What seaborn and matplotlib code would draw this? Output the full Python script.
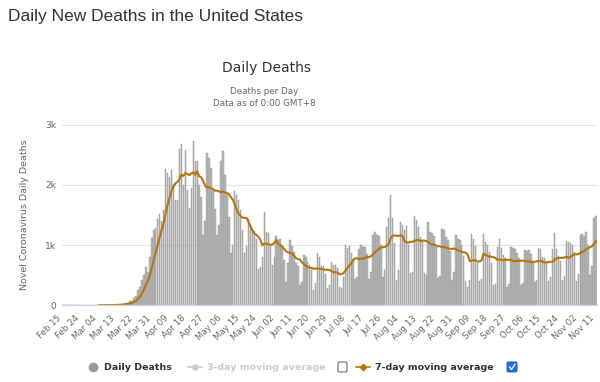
import numpy as np
import pandas as pd
import matplotlib
matplotlib.use("Agg")
import matplotlib.pyplot as plt
import matplotlib.transforms as mtransforms
from matplotlib.lines import Line2D
from matplotlib.patches import FancyBboxPatch
import seaborn as sns

# ---- data: daily deaths, Feb 15 .. Nov 11 (2020), one row per week starting Saturday
daily_deaths = [
    0, 0, 0, 0, 0, 0, 0,
    0, 0, 0, 0, 0, 0, 0,
    1, 0, 5, 1, 4, 1, 2,
    3, 4, 4, 5, 8, 7, 10,
    10, 11, 22, 25, 37, 46, 68,
    75, 118, 150, 250, 310, 420, 500,
    640, 560, 800, 1110, 1250, 1280, 1440,
    1510, 1400, 1580, 2260, 2190, 2130, 2240,
    2020, 1750, 1750, 2600, 2670, 2000, 2580,
    1910, 1610, 1950, 2720, 2400, 2400, 2000,
    1800, 1170, 1400, 2520, 2440, 2270, 1910,
    1600, 1170, 1330, 2390, 2560, 2160, 1830,
    1470, 860, 1000, 1890, 1830, 1750, 1580,
    1250, 860, 980, 1430, 1330, 1250, 1230,
    1100, 610, 640, 800, 1540, 1220, 1200,
    1000, 670, 800, 1150, 1080, 1100, 1000,
    750, 380, 700, 1080, 980, 890, 700,
    650, 330, 380, 840, 800, 720, 670,
    590, 260, 370, 860, 800, 650, 650,
    520, 280, 340, 720, 670, 670, 620,
    300, 280, 470, 1000, 950, 980, 870,
    750, 430, 470, 930, 1000, 960, 960,
    850, 430, 560, 1170, 1220, 1170, 1150,
    1000, 470, 590, 1300, 1450, 1830, 1450,
    1030, 420, 580, 1390, 1330, 1250, 1310,
    1000, 530, 560, 1490, 1420, 1300, 1140,
    1080, 530, 500, 1380, 1220, 1200, 1150,
    960, 450, 490, 1270, 1250, 1130, 1080,
    900, 420, 560, 1170, 1100, 1080, 1000,
    820, 400, 300, 420, 1190, 1100, 980,
    700, 400, 430, 1190, 1050, 1000, 880,
    700, 330, 360, 960, 1100, 950, 830,
    780, 300, 360, 960, 950, 930, 870,
    780, 330, 370, 920, 900, 920, 850,
    720, 380, 420, 950, 940, 800, 780,
    720, 400, 470, 940, 1200, 940, 820,
    740, 420, 480, 1060, 1050, 1040, 1000,
    880, 400, 520, 1170, 1180, 1150, 1220,
    1000, 500, 650, 1450, 1480,
]
start_date = "2020-02-15"
ma_start = "2020-03-04"   # the moving-average series begins here
tick_labels = ["Feb 15", "Feb 24", "Mar 04", "Mar 13", "Mar 22", "Mar 31", "Apr 09",
               "Apr 18", "Apr 27", "May 06", "May 15", "May 24", "Jun 02", "Jun 11",
               "Jun 20", "Jun 29", "Jul 08", "Jul 17", "Jul 26", "Aug 04", "Aug 13",
               "Aug 22", "Aug 31", "Sep 09", "Sep 18", "Sep 27", "Oct 06", "Oct 15",
               "Oct 24", "Nov 02", "Nov 11"]
y_ticks = [0, 1000, 2000, 3000]
y_tick_labels = ["0", "1k", "2k", "3k"]

n = len(daily_deaths)
dates = pd.date_range(start_date, periods=n)
df = pd.DataFrame({"idx": np.arange(n), "date": dates, "deaths": daily_deaths})
ma7 = df["deaths"].rolling(7).mean()
ma7[df["date"] < pd.Timestamp(ma_start)] = np.nan
df["ma7"] = ma7

sns.set_theme(style="white")
plt.rcParams["font.family"] = ["DejaVu Sans"]

fig = plt.figure(figsize=(6.0, 3.82), dpi=100)
ax = fig.add_axes([62 / 600, 1 - 305.3 / 382, 535 / 600, (305.3 - 124.5) / 382])

sns.barplot(data=df, x="idx", y="deaths", ax=ax, color="#bababa", width=0.72,
            edgecolor="#8e8e8e", linewidth=0.3, saturation=1)
sns.lineplot(data=df, x="idx", y="ma7", ax=ax, color="#b8740e", linewidth=1.5)

ax.set_xlim(-0.5, n - 0.5)
ax.set_ylim(0, 3000)
ax.set_yticks(y_ticks)
ax.set_yticklabels(y_tick_labels, fontsize=6.5, color="#666666")
ax.yaxis.grid(True, color="#e6e6e6", linewidth=0.8)
ax.set_axisbelow(True)
ax.set_xticks(np.arange(0, n, 9)[:len(tick_labels)])
ax.set_xticklabels(tick_labels, rotation=45, ha="right", rotation_mode="anchor",
                   fontsize=6.2, color="#666666")
ax.tick_params(axis="both", length=0, pad=4)
ax.tick_params(axis="x", pad=6)
for s in ["top", "right", "left"]:
    ax.spines[s].set_visible(False)
ax.spines["bottom"].set_color("#ccd6eb")
ax.spines["bottom"].set_linewidth(1)
ax.set_xlabel("")
ax.set_ylabel("Novel Coronavirus Daily Deaths", fontsize=6.8, color="#666666", labelpad=12)

# titles
fig.text(8 / 600, 1 - 16 / 382, "Daily New Deaths in the United States",
         fontsize=12.5, color="#333333", family="Liberation Sans", va="center", ha="left")
fig.text(266 / 600, 1 - 68 / 382, "Daily Deaths", fontsize=10, color="#333333",
         ha="center", va="center")
fig.text(264 / 600, 1 - 91 / 382, "Deaths per Day", fontsize=6.3, color="#666666",
         ha="center", va="center")
fig.text(264 / 600, 1 - 104 / 382, "Data as of 0:00 GMT+8", fontsize=6.3, color="#666666",
         ha="center", va="center")

# legend
ly = 1 - 367 / 382
fig.add_artist(Line2D([93 / 600], [ly], marker="o", markersize=6, color="#999999",
                      transform=fig.transFigure, linestyle="none"))
fig.text(104 / 600, ly, "Daily Deaths", fontsize=6.8, color="#333333", weight="bold",
         va="center", ha="left")
fig.add_artist(Line2D([188 / 600, 202 / 600], [ly, ly], color="#cccccc",
                      transform=fig.transFigure, lw=1.2))
fig.add_artist(Line2D([195 / 600], [ly], marker="o", markersize=3.8, color="#cccccc",
                      transform=fig.transFigure, linestyle="none"))
fig.text(207 / 600, ly, "3-day moving average", fontsize=6.8, color="#cccccc", weight="bold",
         va="center", ha="left")
fig.add_artist(FancyBboxPatch((338 / 600, ly - 5 / 382), 9 / 600, 10 / 382,
                              boxstyle="round,pad=0,rounding_size=0.003",
                              transform=fig.transFigure, facecolor="white",
                              edgecolor="#555555", linewidth=0.7))
fig.add_artist(Line2D([356 / 600, 370 / 600], [ly, ly], color="#b8740e",
                      transform=fig.transFigure, lw=1.2))
fig.add_artist(Line2D([363 / 600], [ly], marker="D", markersize=3.2, color="#b8740e",
                      transform=fig.transFigure, linestyle="none"))
fig.text(375 / 600, ly, "7-day moving average", fontsize=6.8, color="#333333", weight="bold",
         va="center", ha="left")
fig.add_artist(FancyBboxPatch((507 / 600, ly - 5 / 382), 10 / 600, 10 / 382,
                              boxstyle="round,pad=0,rounding_size=0.003",
                              transform=fig.transFigure, facecolor="#1a73e8",
                              edgecolor="#1a5fc0", linewidth=0.7))
fig.add_artist(Line2D([509.5 / 600, 511.5 / 600, 515 / 600],
                      [ly, ly - 2.5 / 382, ly + 3 / 382], color="white",
                      transform=fig.transFigure, lw=1.0))

# nudge the rotated date labels a few pixels left so the last one fits
fig.canvas.draw()
shift = mtransforms.ScaledTranslation(-6 / 100, 0, fig.dpi_scale_trans)
for tick in ax.xaxis.get_major_ticks():
    tick.label1.set_transform(tick.label1.get_transform() + shift)

fig.savefig("out.png", dpi=100)
